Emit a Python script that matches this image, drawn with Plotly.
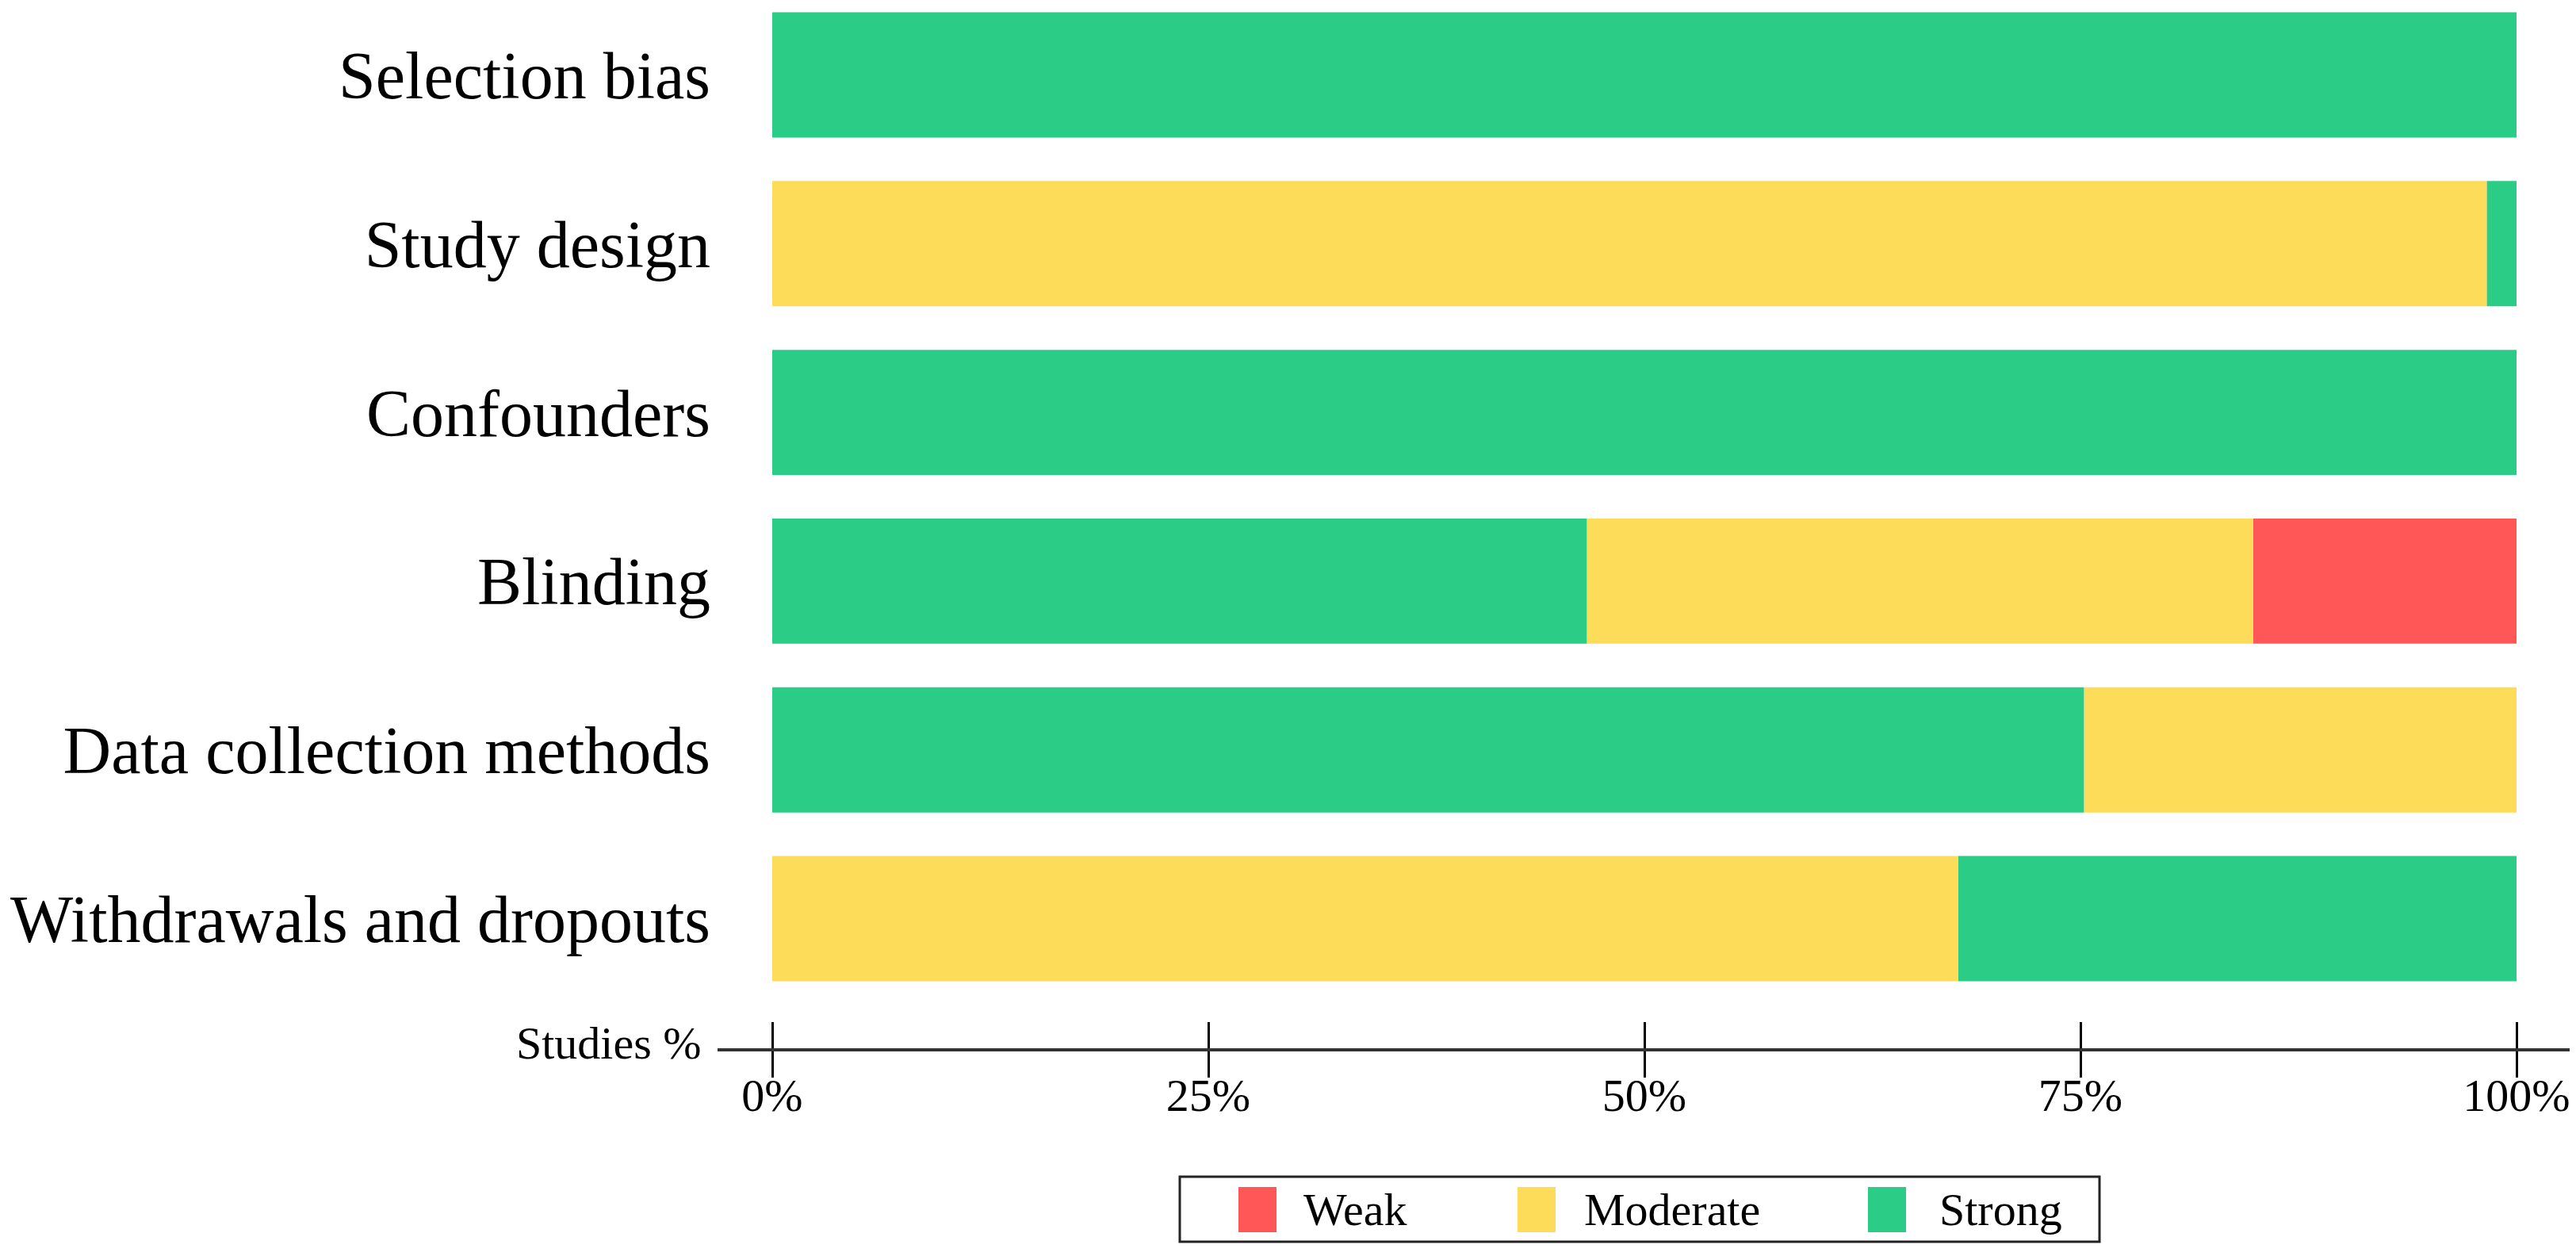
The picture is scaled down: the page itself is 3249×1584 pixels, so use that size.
import plotly.graph_objects as go

# ---------------- data ----------------
categories = ["Selection bias", "Study design", "Confounders", "Blinding",
              "Data collection methods", "Withdrawals and dropouts"]
levels = ["Weak", "Moderate", "Strong"]
weak = [0, 0, 0, 15.1, 0, 0]
moderate = [0, 98.3, 0, 38.2, 24.8, 68.0]
strong = [100, 1.7, 100, 46.7, 75.2, 32.0]
# left-to-right order of the segments in each bar
stack_order = [["Strong"], ["Moderate", "Strong"], ["Strong"],
               ["Strong", "Moderate", "Weak"], ["Strong", "Moderate"],
               ["Moderate", "Strong"]]
x_ticks = [0, 25, 50, 75, 100]
x_tick_labels = ["0%", "25%", "50%", "75%", "100%"]
axis_label = "Studies %"

values = {"Weak": weak, "Moderate": moderate, "Strong": strong}
colors = {"Weak": "#FF5757", "Moderate": "#FDDC5A", "Strong": "#2BCC85"}
FONT = "Liberation Serif"

# ---------------- geometry (page pixels) ----------------
OFF = 8                    # default page body margin
W, H = 3249 - 2 * OFF, 1584 - 2 * OFF
L, RX = 905, W + OFF       # plot area horizontal extent (axis line), page px
TOP, BOT = OFF, 1322       # plot area vertical extent, page px
X0, X100 = 974, 3174       # page pixel of 0% and 100%
ROW0, ROWSTEP = 94.5, 212.8

ppu = (X100 - X0) / 100.0
x_range = [(L - X0) / ppu, (RX - X0) / ppu]
y_range = [(BOT - ROW0) / ROWSTEP, (TOP - ROW0) / ROWSTEP]


def px(x):
    return (x - L) / (RX - L)


def py(y):
    return (BOT - y) / (BOT - TOP)


# bases for each segment following the stacking order of each row
bases = {lv: [0.0] * len(categories) for lv in levels}
for i, order in enumerate(stack_order):
    acc = 0.0
    for lv in order:
        bases[lv][i] = acc
        acc += values[lv][i]

fig = go.Figure()
for lv in levels:
    fig.add_trace(go.Bar(
        y=categories, x=values[lv], base=bases[lv], orientation="h",
        name=lv, marker=dict(color=colors[lv], line=dict(width=0)),
        width=0.742, showlegend=False,
    ))

# invisible trace on overlay axis carrying the upward tick halves
fig.add_trace(go.Scatter(x=[x_ticks[0]], y=[categories[0]], xaxis="x2",
                         mode="markers", marker=dict(opacity=0),
                         showlegend=False, hoverinfo="skip"))

shapes = []
annotations = []

# legend box
shapes.append(dict(type="rect", xref="paper", yref="paper",
                   x0=px(1488), x1=px(2648), y0=py(1484), y1=py(1566),
                   line=dict(color="#222222", width=3), fillcolor="white"))
legend_items = [("Weak", 1562, 1642), ("Moderate", 1914, 1996), ("Strong", 2356, 2444)]
for lv, sx, tx in legend_items:
    shapes.append(dict(type="rect", xref="paper", yref="paper",
                       x0=px(sx), x1=px(sx + 48), y0=py(1497), y1=py(1554),
                       line=dict(width=0), fillcolor=colors[lv]))
    annotations.append(dict(text=lv, xref="paper", yref="paper",
                            x=px(tx), y=py(1525), xanchor="left", yanchor="middle",
                            showarrow=False, font=dict(family=FONT, size=58, color="black")))

annotations.append(dict(text=axis_label, xref="paper", yref="paper",
                        x=px(887), y=py(1315), xanchor="right", yanchor="middle",
                        showarrow=False, font=dict(family=FONT, size=58, color="black")))

fig.update_layout(
    width=W, height=H,
    margin=dict(l=L - OFF, r=max(0, (W + OFF) - RX), t=TOP - OFF,
                b=(H + OFF) - BOT, pad=0),
    paper_bgcolor="white", plot_bgcolor="white",
    barmode="overlay",
    font=dict(family=FONT, color="black"),
    xaxis=dict(range=x_range, tickvals=x_ticks, ticktext=x_tick_labels,
               showgrid=False, zeroline=False, showline=True,
               linecolor="#333333", linewidth=4,
               ticks="outside", ticklen=33, tickwidth=3, tickcolor="black",
               ticklabelstandoff=-28, ticklabeloverflow="allow",
               tickfont=dict(family=FONT, size=58, color="black")),
    xaxis2=dict(range=x_range, overlaying="x", anchor="y", side="bottom",
                tickvals=x_ticks, showticklabels=False, showgrid=False,
                zeroline=False, showline=False,
                ticks="inside", ticklen=33, tickwidth=3, tickcolor="black"),
    yaxis=dict(range=y_range, categoryorder="array", categoryarray=categories,
               showgrid=False, zeroline=False, showline=False, ticks="",
               ticklabelstandoff=8,
               tickfont=dict(family=FONT, size=84, color="black")),
    shapes=shapes, annotations=annotations,
)

fig.write_html("out.html")
